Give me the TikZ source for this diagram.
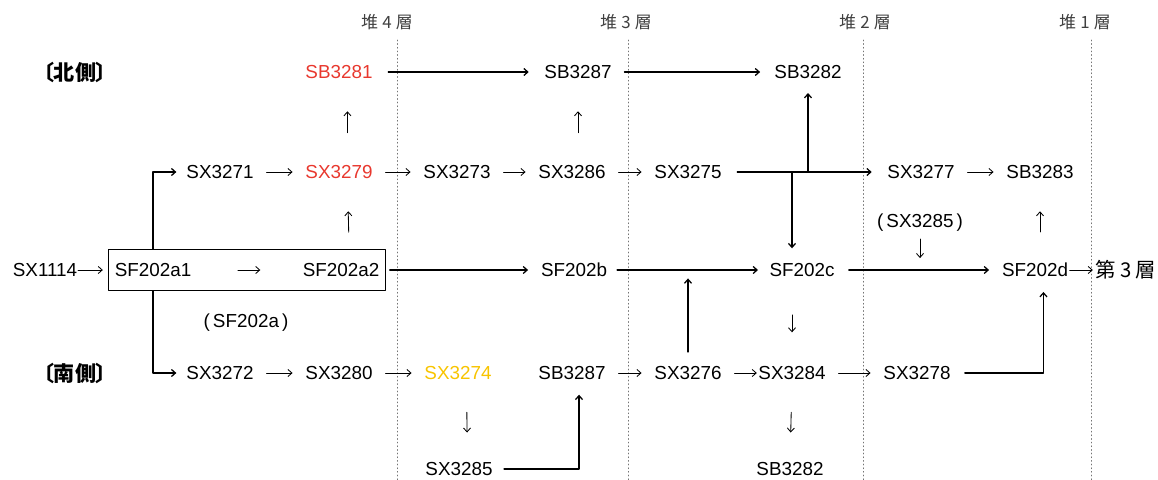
\documentclass[tikz,border=0pt]{standalone}
\usepackage{fontspec}
\setmainfont{Liberation Sans}
\newfontfamily\cjk[RawFeature=+palt]{Noto Sans CJK JP}
\usetikzlibrary{arrows.meta,fit}

\definecolor{pitred}{RGB}{232,56,46}
\definecolor{pityellow}{RGB}{248,196,0}

\begin{document}
\begin{tikzpicture}[
	x=0.025cm, y=-0.025cm,
	every node/.style={font=\fontsize{13.4}{16}\selectfont, inner sep=0pt},
	line cap=round,
	line join=round,
	hdr/.style={font=\cjk\fontsize{12}{14}\selectfont, text=black!75},
	side/.style={font=\cjk\bfseries\fontsize{15}{18}\selectfont},
	layerline/.style={dotted, line width=0.6pt, black!55},
	flow/.style={-{Straight Barb[length=2.8pt,width=5pt]}, line width=0.6pt, shorten <=9pt, shorten >=9pt},
	longflow/.style={flow, line width=0.9pt, shorten <=11pt, shorten >=11pt},
	rise/.style={flow, shorten <=23pt, shorten >=23pt}
	]
	
	\useasboundingbox (0,0) rectangle (1158,480);
	
	% layer headers and dividers
	\foreach \n/\tx/\lx in {4/387/397, 3/626/628, 2/865/863, 1/1085/1091}{
		\node[hdr] (layer\n) at (\tx,22) {堆\hspace{0.25em}\n\hspace{0.25em}層};
		\draw[layerline] (\lx,40) -- (\lx,480);
	}
	
	% north side
	\node[side] (north) at (75,72) {〔北側〕};
	\node[text=pitred] (sb3281) at (339,72) {SB3281};
	\node (sb3287n) at (578,72) {SB3287};
	\node (sb3282n) at (808,72) {SB3282};
	
	\node (sx3271) at (220,172) {SX3271};
	\node[text=pitred] (sx3279) at (339,172) {SX3279};
	\node (sx3273) at (457,172) {SX3273};
	\node (sx3286) at (572,172) {SX3286};
	\node (sx3275) at (688,172) {SX3275};
	\node (sx3277) at (921,172) {SX3277};
	\node (sb3283) at (1040,172) {SB3283};
	
	% main line
	\node (sx1114) at (45,270) {SX1114};
	\node (sf202a1) at (153,270) {SF202a1};
	\node (sf202a2) at (341,270) {SF202a2};
	\node[draw, line width=0.6pt, inner xsep=4pt, inner ysep=9.5pt, fit=(sf202a1)(sf202a2)] (sf202a) {};
	\node (sf202aname) at (246,323) {(\,SF202a\,)};
	\node (sf202b) at (574,270) {SF202b};
	\node (sf202c) at (802,270) {SF202c};
	\node (sx3285p) at (920,223) {(\,SX3285\,)};
	\node (sf202d) at (1035,270) {SF202d};
	\node[font=\cjk\fontsize{14.5}{17}\selectfont] (strat3) at (1126,270) {第\hspace{0.2em}3\hspace{0.2em}層};
	
	% south side
	\node[side] (south) at (75,373) {〔南側〕};
	\node (sx3272) at (220,373) {SX3272};
	\node (sx3280) at (339,373) {SX3280};
	\node[text=pityellow] (sx3274) at (458,373) {SX3274};
	\node (sb3287s) at (572,373) {SB3287};
	\node (sx3276) at (688,373) {SX3276};
	\node (sx3284) at (792,373) {SX3284};
	\node (sx3278) at (917,373) {SX3278};
	
	\node (sx3285) at (459,469) {SX3285};
	\node (sb3282s) at (790,469) {SB3282};
	
	% north connectors
	\draw[longflow] (sb3281) -- (sb3287n);
	\draw[longflow, shorten <=9pt, shorten >=10pt] (sb3287n) -- (sb3282n);
	\draw[rise] ([xshift=6pt]sx3279.north) -- ([xshift=6pt]sb3281.south);
	\draw[rise] (sx3286.north -| sb3287n) -- (sb3287n.south);
	
	\draw[longflow, shorten <=0pt, shorten >=7pt] (sf202a.north -| sf202a1) |- (sx3271);
	\draw[flow] (sx3271) -- (sx3279);
	\draw[flow] (sx3279) -- (sx3273);
	\draw[flow] (sx3273) -- (sx3286);
	\draw[flow] (sx3286) -- (sx3275);
	\draw[longflow] (sx3275) -- (sx3277);
	\draw[longflow, shorten <=0pt, shorten >=10pt] (sx3275 -| sb3282n) -- (sb3282n.south);
	\draw[longflow, shorten <=0pt, shorten >=10.5pt] (sx3275 -| sx3284) -- (sf202c.north -| sx3284);
	\draw[flow] (sx3277) -- (sb3283);
	
	% main line connectors
	\draw[flow, shorten <=0.5pt, shorten >=4pt] (sx1114) -- (sx1114 -| sf202a.west);
	\draw[flow, shorten <=33pt, shorten >=30pt] (sf202a1) -- (sf202a2);
	\draw[rise, shorten <=22pt] ([xshift=6pt]sf202a2.north) -- ([xshift=6pt]sx3279.south);
	\draw[longflow, shorten <=3pt, shorten >=9pt] (sf202a2 -| sf202a.east) -- (sf202b);
	\draw[longflow, shorten <=7pt, shorten >=8pt] (sf202b) -- (sf202c);
	\draw[longflow, shorten <=10pt, shorten >=9pt] (sf202c) -- (sf202d);
	\draw[flow, shorten <=5pt, shorten >=8.5pt] (sx3285p) -- (sx3285p |- sf202d);
	\draw[rise, shorten <=22pt] (sf202d.north -| sb3283) -- (sb3283.south);
	\draw[flow, shorten <=1pt, shorten >=2pt] (sf202d) -- (strat3);
	
	% south connectors
	\draw[longflow, shorten <=0pt, shorten >=7pt] (sf202a.south -| sf202a1) |- (sx3272);
	\draw[flow] (sx3272) -- (sx3280);
	\draw[flow] (sx3280) -- (sx3274);
	\draw[flow] (sb3287s) -- (sx3276);
	\draw[flow, shorten >=1pt] (sx3276) -- (sx3284);
	\draw[flow] (sx3284) -- (sx3278);
	\draw[longflow, shorten <=10pt, shorten >=6pt] (sx3276.north) -- (sx3276 |- sf202b);
	\draw[rise, shorten <=27pt, shorten >=24pt] (sf202c.south -| sx3284) -- (sx3284.north);
	\draw[rise, shorten >=21pt] ([xshift=6pt]sx3274.south) -- ([xshift=6pt]sx3285.north);
	\draw[rise, shorten >=21pt] (sx3284.south) -- (sb3282s.north);
	\draw[longflow, shorten <=8pt, shorten >=10.5pt] (sx3285) -| ([xshift=5pt]sb3287s.south);
	\draw[longflow, shorten <=10pt, shorten >=10.5pt] (sx3278) -| ([xshift=6pt]sf202d.south);
	
\end{tikzpicture}
\end{document}
